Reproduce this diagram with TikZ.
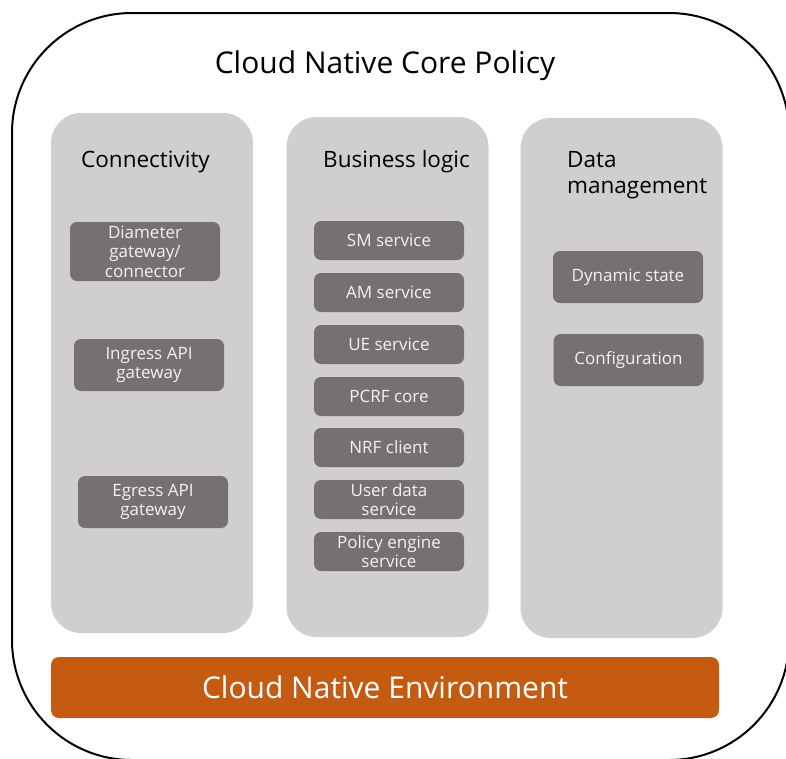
\documentclass[tikz,border=0pt]{standalone}
\usepackage{fontspec}
\setmainfont{Open Sans}
\usetikzlibrary{positioning}
\definecolor{colgray}{HTML}{D0CECF}
\definecolor{boxgray}{HTML}{757170}
\definecolor{envorange}{HTML}{C55A11}
\definecolor{boxtext}{HTML}{F2F2F2}

\begin{document}
\begin{tikzpicture}[x=1pt,y=-1pt,
    column/.style={fill=colgray, rounded corners=30pt, minimum width=202pt, minimum height=520pt, inner sep=0pt},
    svcbox/.style={fill=boxgray, rounded corners=7pt, text=boxtext, minimum width=150pt, minimum height=39pt, inner sep=0pt, align=center, font=\fontsize{17}{19.5}\selectfont},
    header/.style={anchor=base west, inner sep=0pt, align=left, font=\fontsize{22.5}{26}\selectfont}
  ]
    \useasboundingbox (0,0) rectangle (786,758);

    % outer frame
    \begin{scope}
      \clip (0,0) rectangle (786,758);
      \draw [line width=2pt, rounded corners=120pt] (12,13) rectangle (789,760);
    \end{scope}

    % title
    \node (title) at (385,66) [font=\fontsize{30}{36}\selectfont] {Cloud Native Core Policy};

    % columns
    \node (conn) at (152,373) [column] {};
    \node (biz) at (387.5,377) [column] {};
    \node (data) at (621.5,378) [column] {};

    % column headers
    \node (connhead) at (81,167) [header] {Connectivity};
    \node (bizhead) at (323,167) [header] {Business logic};
    \node (datahead) at (567,193) [header] {Data\\management};

    % connectivity boxes
    \node (diameter) at (145,251.5) [svcbox, minimum height=59pt] {Diameter\\gateway/\\connector};
    \node (ingress) at (149,365) [svcbox, minimum height=52pt] {Ingress API\\gateway};
    \node (egress) at (153,502) [svcbox, minimum height=52pt] {Egress API\\gateway};

    % business logic boxes
    \node (sm) at (389,240.5) [svcbox] {SM service};
    \node (am) at (389,292.5) [svcbox] {AM service};
    \node (ue) at (389,344.5) [svcbox] {UE service};
    \node (pcrf) at (389,396.5) [svcbox] {PCRF core};
    \node (nrf) at (389,447.5) [svcbox] {NRF client};
    \node (udr) at (389,499.5) [svcbox] {User data\\service};
    \node (pe) at (389,551.5) [svcbox] {Policy engine\\service};

    % data management boxes
    \node (dyn) at (628,277) [svcbox, minimum height=52pt] {Dynamic state};
    \node (config) at (628.5,360) [svcbox, minimum height=52pt] {Configuration};

    % environment bar
    \node (env) at (385,687.5) [fill=envorange, rounded corners=8pt, minimum width=668pt, minimum height=61pt, inner sep=0pt, text=white, font=\fontsize{30}{36}\selectfont] {Cloud Native Environment};
\end{tikzpicture}
\end{document}
